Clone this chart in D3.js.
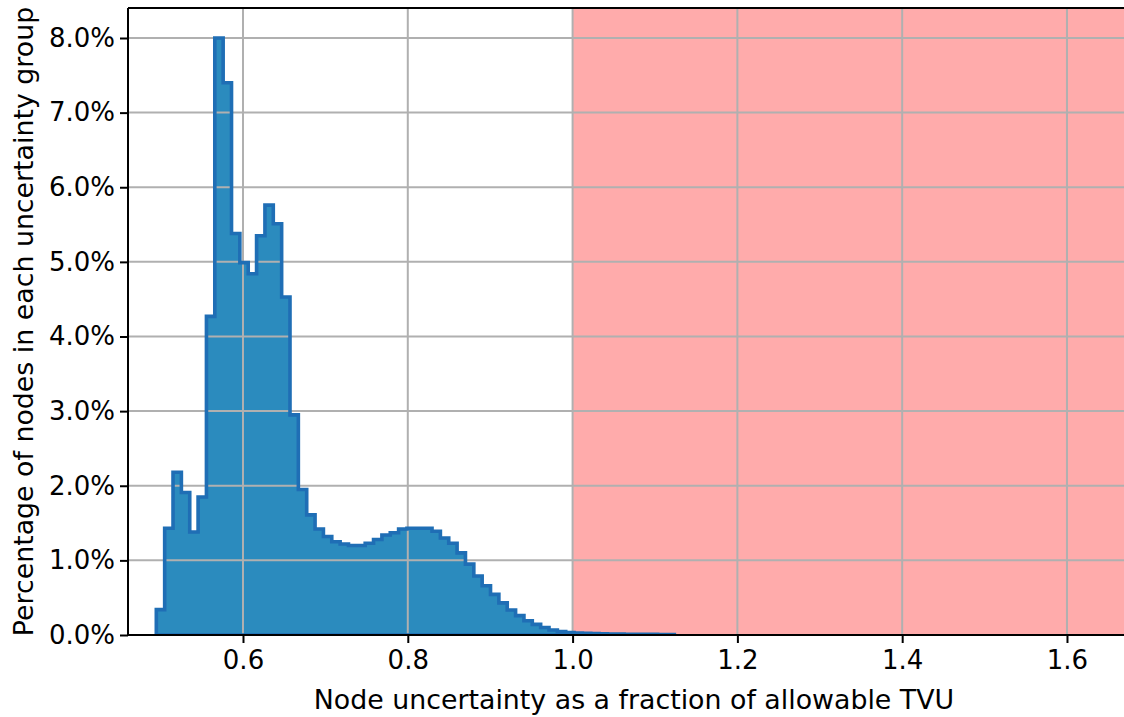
<!DOCTYPE html>
<html>
<head>
<meta charset="utf-8">
<script src="https://cdn.jsdelivr.net/npm/d3@7"></script>
<style>
  html, body { margin: 0; padding: 0; background: #ffffff; }
  svg { display: block; }
  text { font-family: "DejaVu Sans", sans-serif; fill: #000; }
</style>
</head>
<body>
<svg id="chart" width="1124" height="717"></svg>
<script>
// ---- Data ----
// histogram bins: regular bins starting at binStart, each binWidth wide
const binStart = 0.4948;
const binWidth = 0.01014;
// percentage of nodes in each bin (%)
const binValues = [
  0.34, 1.43, 2.18, 1.91, 1.38, 1.85, 4.27, 8.00, 7.40, 5.38,
  4.99, 4.84, 5.35, 5.76, 5.51, 4.53, 2.95, 1.95, 1.61, 1.42,
  1.32, 1.25, 1.22, 1.20, 1.20, 1.23, 1.28, 1.34, 1.37, 1.42,
  1.43, 1.43, 1.43, 1.39, 1.30, 1.23, 1.10, 0.95, 0.79, 0.66,
  0.545, 0.43, 0.335, 0.26, 0.19, 0.143, 0.10, 0.067, 0.045, 0.033,
  0.027, 0.022, 0.019, 0.016, 0.014, 0.012, 0.011, 0.010, 0.009, 0.008,
  0.007, 0.006
];
const xTicks = [0.6, 0.8, 1.0, 1.2, 1.4, 1.6];
const yTicks = [0, 1, 2, 3, 4, 5, 6, 7, 8];
const xDomain = [0.46044, 1.6692];
const yDomain = [0, 8.402];
const failThreshold = 1.0;   // start of the red (over-allowable) region
const xLabel = "Node uncertainty as a fraction of allowable TVU";
const yLabel = "Percentage of nodes in each uncertainty group";

// ---- Layout ----
const svg = d3.select("#chart");
const W = 1124, H = 717;
const margin = { left: 128, right: 0, top: 8, bottom: 82 };
const pw = W - margin.left - margin.right;
const ph = H - margin.top - margin.bottom;
const FS_TICK = 26;
const FS_LABEL = 26.8;

const x = d3.scaleLinear().domain(xDomain).range([0, pw]);
const y = d3.scaleLinear().domain(yDomain).range([ph, 0]);

const g = svg.append("g").attr("transform", `translate(${margin.left},${margin.top})`);

const clip = svg.append("defs").append("clipPath").attr("id", "plotclip");
clip.append("rect").attr("width", pw).attr("height", ph);

const plot = g.append("g").attr("clip-path", "url(#plotclip)");

// red region
plot.append("rect")
  .attr("x", x(failThreshold))
  .attr("y", 0)
  .attr("width", x(xDomain[1]) - x(failThreshold) + 2)
  .attr("height", ph)
  .attr("fill", "#ffabab");

// histogram points
const pts = binValues.map((v, i) => ({ x0: binStart + i * binWidth, v }));
pts.push({ x0: binStart + binValues.length * binWidth, v: binValues[binValues.length - 1] });

const area = d3.area()
  .curve(d3.curveStepAfter)
  .x(d => x(d.x0))
  .y0(y(0))
  .y1(d => y(d.v));

plot.append("path")
  .datum(pts)
  .attr("d", area)
  .attr("fill", "#2b8bbe");

// grid
const grid = plot.append("g").attr("class", "grid");
grid.selectAll("line.gx").data(xTicks).enter().append("line")
  .attr("x1", d => x(d)).attr("x2", d => x(d))
  .attr("y1", 0).attr("y2", ph)
  .attr("stroke", "#b0b0b0").attr("stroke-width", 2);
grid.selectAll("line.gy").data(yTicks).enter().append("line")
  .attr("y1", d => y(d)).attr("y2", d => y(d))
  .attr("x1", 0).attr("x2", pw)
  .attr("stroke", "#b0b0b0").attr("stroke-width", 2);

// histogram outline (closed step polygon)
const line = d3.line()
  .curve(d3.curveStepAfter)
  .x(d => x(d.x0))
  .y(d => y(d.v));
const lastEdge = binStart + binValues.length * binWidth;
const outlineD = line([{ x0: binStart, v: 0 }].concat(pts)) +
  `L${x(lastEdge)},${y(0)}L${x(binStart)},${y(0)}Z`;
plot.append("path")
  .attr("d", outlineD)
  .attr("fill", "none")
  .attr("stroke", "#1f6eb5")
  .attr("stroke-width", 3.6)
  .attr("stroke-linejoin", "miter");

// axes
const xAxis = d3.axisBottom(x).tickValues(xTicks).tickFormat(d3.format(".1f"))
  .tickSize(8).tickPadding(8);
const yAxis = d3.axisLeft(y).tickValues(yTicks).tickFormat(d => d.toFixed(1) + "%")
  .tickSize(8).tickPadding(5);

const gx = g.append("g").attr("transform", `translate(0,${ph})`).call(xAxis);
const gy = g.append("g").call(yAxis);
[gx, gy].forEach(a => {
  a.select(".domain").remove();
  a.selectAll(".tick line").attr("stroke", "#000").attr("stroke-width", 2);
  a.selectAll(".tick text").attr("font-size", FS_TICK).attr("font-family", "DejaVu Sans").attr("fill", "#000");
});

// spines
g.append("line").attr("x1", 0).attr("x2", 0).attr("y1", 0).attr("y2", ph)
  .attr("stroke", "#000").attr("stroke-width", 2);
g.append("line").attr("x1", 0).attr("x2", pw).attr("y1", ph).attr("y2", ph)
  .attr("stroke", "#000").attr("stroke-width", 2);
g.append("line").attr("x1", 0).attr("x2", pw).attr("y1", 0).attr("y2", 0)
  .attr("stroke", "#000").attr("stroke-width", 2);

// labels
svg.append("text")
  .attr("x", 634)
  .attr("y", 709)
  .attr("text-anchor", "middle")
  .attr("font-size", FS_LABEL)
  .text(xLabel);

svg.append("text")
  .attr("transform", `translate(33,${margin.top + ph / 2}) rotate(-90)`)
  .attr("text-anchor", "middle")
  .attr("font-size", FS_LABEL)
  .text(yLabel);
</script>
</body>
</html>
